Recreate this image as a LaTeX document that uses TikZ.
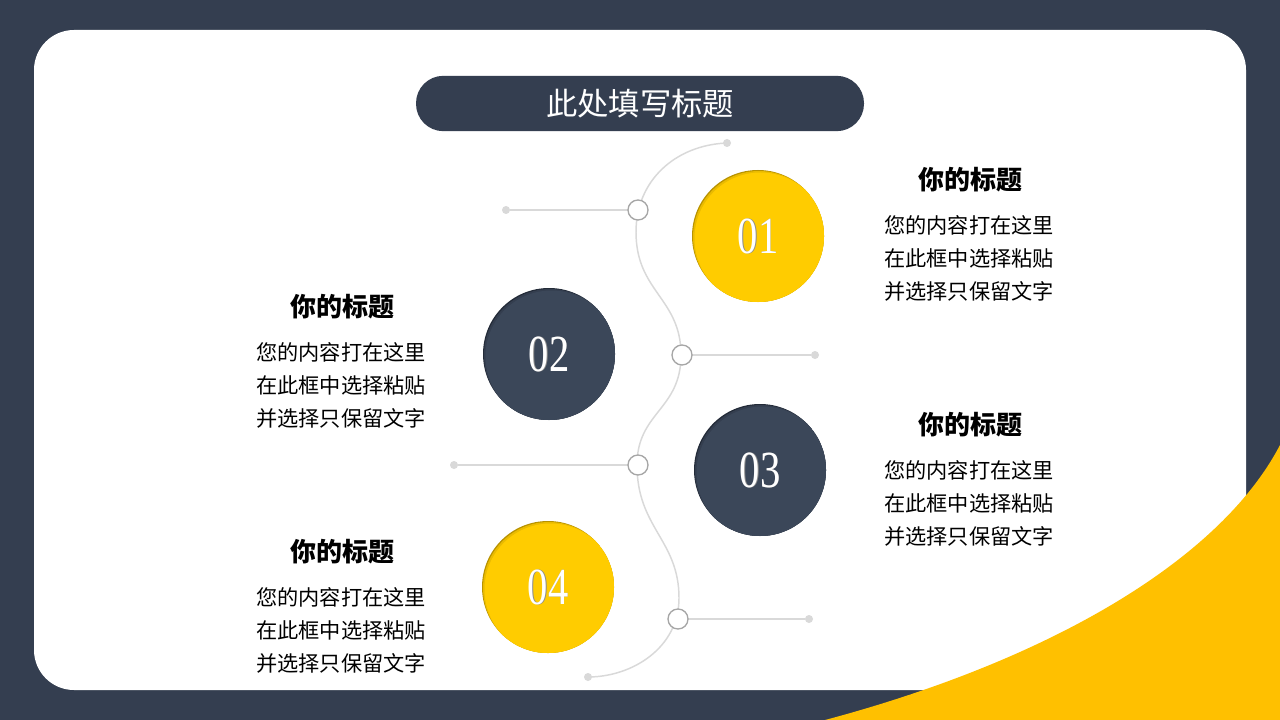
\documentclass[tikz,border=0pt]{standalone}
\usepackage{fontspec}
\newfontfamily\cjk{Noto Sans CJK SC}
\newfontfamily\numfont{Liberation Serif}
\definecolor{navy}{HTML}{343E50}
\definecolor{discnavy}{HTML}{3B4759}
\definecolor{discnavyrim}{HTML}{232B38}
\definecolor{discyellow}{HTML}{FFCC00}
\definecolor{discyellowrim}{HTML}{B89200}
\definecolor{cornerYellow}{HTML}{FFC000}
\definecolor{curvegrey}{HTML}{D9D9D9}
\definecolor{ringgrey}{HTML}{A6A6A6}
\tikzset{
  wave/.style={draw=curvegrey, line width=1.1pt},
  ring/.style={circle, draw=ringgrey, line width=1pt, fill=white, minimum size=15pt, inner sep=0pt},
  enddot/.style={circle, fill=curvegrey, minimum size=6pt, inner sep=0pt},
  numstyle/.style={text=white, font=\numfont\fontsize{39}{39}\selectfont, inner sep=0pt},
  numshadow/.style={text=black!45, font=\numfont\fontsize{39}{39}\selectfont, inner sep=0pt},
  headstyle/.style={font=\cjk\bfseries\fontsize{19.5}{22}\selectfont, inner sep=0pt, text=black},
  bodystyle/.style={font=\cjk\fontsize{15.9}{18}\selectfont, inner sep=0pt, anchor=west, text=black},
}
\newcommand\bigdisc[5]{%
  \fill[#4] (#2) circle[radius=66];
  \begin{scope}
    \clip (#2) circle[radius=66];
    \fill[#3!70!#4, shift={(1,1)}] (#2) circle[radius=66];
    \fill[#3, shift={(2.5,2.5)}] (#2) circle[radius=66];
  \end{scope}
  \node[numshadow, shift={(0.8,0.9)}] (#1s) at (#2) {\scalebox{0.78}[1]{#5}};
  \node[numstyle] (#1) at (#2) {\scalebox{0.78}[1]{#5}};
}
\newcommand\infoblock[3]{%
  \node[headstyle] (#1h) at (#2+86,#3) {你的标题};
  \node[bodystyle] (#1a) at (#2,#3+45) {您的内容打在这里};
  \node[bodystyle] (#1b) at (#2,#3+78) {在此框中选择粘贴};
  \node[bodystyle] (#1c) at (#2,#3+111) {并选择只保留文字};
}
\begin{document}
\begin{tikzpicture}[x=0.75pt,y=-0.75pt]
\useasboundingbox (0,0) rectangle (1280,720);
\fill[navy] (0,0) rectangle (1280,720);
\fill[white, rounded corners=30pt] (34,30) rectangle (1246,690);
\fill[cornerYellow] (825,720) .. controls (1050,660) and (1220,560) .. (1280,445) -- (1280,720) -- cycle;

% title
\node[fill=navy, rounded corners=20.5pt, minimum width=336pt, minimum height=41.5pt, inner sep=0pt,
      text=white, font=\cjk\fontsize{23.5}{26}\selectfont] (title) at (640,103.5) {此处填写标题};

% wavy line
\coordinate (top) at (727,143);
\coordinate (p1) at (638,210);
\coordinate (p2) at (682,355);
\coordinate (p3) at (638,465);
\coordinate (p4) at (678,619);
\coordinate (bot) at (588,677);
\draw[wave] (top) .. controls (676,145) and (636,180) .. (636,232)
  .. controls (636,292) and (681,298) .. (681,355)
  .. controls (681,410) and (637,412) .. (637,465)
  .. controls (637,528) and (679,540) .. (679,598)
  .. controls (679,648) and (632,677) .. (bot);

\node[enddot] (dtop) at (top) {};
\node[enddot] (dbot) at (bot) {};
\node[enddot] (d1) at (506,210) {};
\node[enddot] (d2) at (815,355) {};
\node[enddot] (d3) at (454,465) {};
\node[enddot] (d4) at (809,619) {};
\draw[wave] (d1) -- (p1);
\draw[wave] (p2) -- (d2);
\draw[wave] (d3) -- (p3);
\draw[wave] (p4) -- (d4);
\node[ring] (r1) at (p1) {};
\node[ring] (r2) at (p2) {};
\node[ring] (r3) at (p3) {};
\node[ring] (r4) at (p4) {};

% discs
\bigdisc{n1}{758,236}{discyellow}{discyellowrim}{01}
\bigdisc{n2}{549,354}{discnavy}{discnavyrim}{02}
\bigdisc{n3}{760,470}{discnavy}{discnavyrim}{03}
\bigdisc{n4}{548,587}{discyellow}{discyellowrim}{04}

% texts
\infoblock{ra}{884}{180}
\infoblock{rb}{884}{425}
\infoblock{la}{256}{307}
\infoblock{lb}{256}{552}
\end{tikzpicture}
\end{document}
